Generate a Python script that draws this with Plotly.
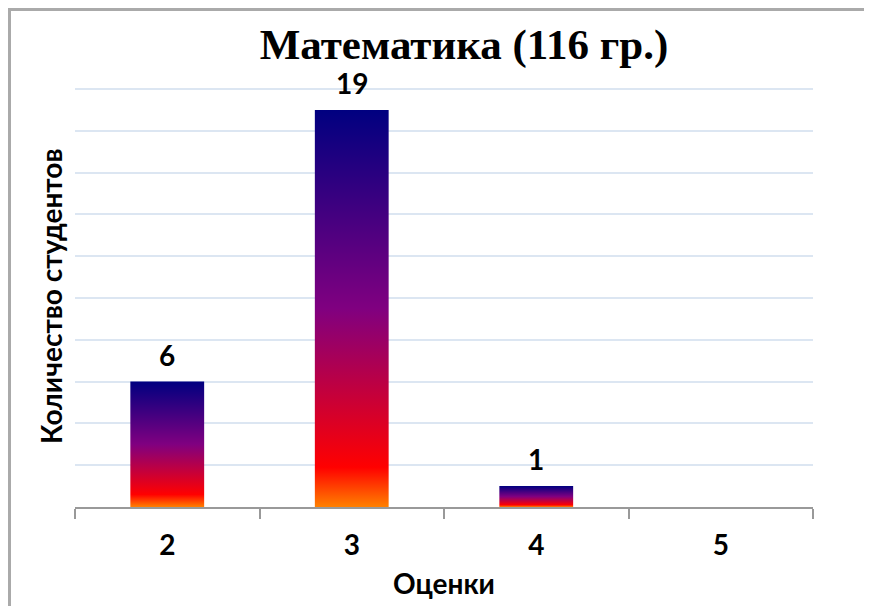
import plotly.graph_objects as go

# ---- data ----
grades = ["2", "3", "4", "5"]
counts = [6, 19, 1, 0]
title_text = "Математика (116 гр.)"
x_title = "Оценки"
y_title = "Количество студентов"

# ---- style ----
gradient = [[0.0, "#FF8000"], [0.1, "#FF0000"], [0.5, "#800080"], [1.0, "#000080"]]
bar_half = 0.2
label_font = dict(family="Lato", size=28, color="black", weight="bold")

OFF = 8  # default page body margin
W, H = 872 - OFF, 606 - OFF
L, R, T, B = 75 - OFF, 59, 88 - OFF, 99
pw, ph = W - L - R, H - T - B


def px_x(x):  # page pixel -> paper x
    return (x - OFF - L) / pw


def px_y(y):  # page pixel -> paper y
    return (H - B - (y - OFF)) / ph


fig = go.Figure()

for i, (g, v) in enumerate(zip(grades, counts)):
    if v <= 0:
        continue
    fig.add_trace(go.Scatter(
        x=[i - bar_half, i + bar_half, i + bar_half, i - bar_half, i - bar_half],
        y=[0, 0, v, v, 0],
        mode="lines",
        line=dict(width=0),
        fill="toself",
        fillgradient=dict(type="vertical", colorscale=gradient),
        hoverinfo="skip",
        showlegend=False,
    ))

for i, v in enumerate(counts):
    if v <= 0:
        continue
    fig.add_annotation(x=i, y=v, text=str(v), showarrow=False,
                       yanchor="bottom", yshift=8, font=label_font)

fig.add_annotation(xref="paper", yref="paper", x=px_x(444), y=px_y(583),
                   text=x_title, showarrow=False, xanchor="center", yanchor="middle",
                   font=label_font)
fig.add_annotation(xref="paper", yref="paper", x=px_x(51), y=px_y(297),
                   text=y_title, showarrow=False, textangle=-90,
                   xanchor="center", yanchor="middle", font=label_font)

# frame (drawn at the figure's own edges)
fig.add_shape(type="line", xref="paper", yref="paper",
              x0=px_x(9.5), x1=px_x(9.5), y0=px_y(9.5), y1=px_y(620),
              line=dict(color="#AAAAAA", width=3))
fig.add_shape(type="line", xref="paper", yref="paper",
              x0=px_x(8), x1=px_x(872), y0=px_y(9.5), y1=px_y(9.5),
              line=dict(color="#AAAAAA", width=3))
fig.add_shape(type="line", xref="paper", yref="paper",
              x0=px_x(870.5), x1=px_x(870.5), y0=px_y(9.5), y1=px_y(620),
              line=dict(color="#D0D0D0", width=2))

fig.update_layout(
    width=W, height=H,
    margin=dict(l=L, r=R, t=T, b=B, pad=0),
    paper_bgcolor="white", plot_bgcolor="white",
    title=dict(text=title_text, x=(464 - OFF) / W, xref="container", xanchor="center",
               y=1 - (44 - OFF) / H, yref="container", yanchor="middle",
               font=dict(family="Liberation Serif", size=43, color="black", weight="bold")),
    xaxis=dict(
        range=[-0.5, len(grades) - 0.5],
        tickmode="array", tickvals=list(range(len(grades))), ticktext=grades,
        ticks="", showgrid=False, zeroline=False,
        showline=True, linecolor="#999999", linewidth=2,
        tickfont=label_font, ticklabelstandoff=12,
        minor=dict(tickmode="array",
                   tickvals=[i - 0.5 for i in range(len(grades) + 1)],
                   ticks="outside", ticklen=10, tickwidth=2, tickcolor="#999999",
                   showgrid=False),
        fixedrange=True,
    ),
    yaxis=dict(
        range=[0, 20.05], tickmode="array", tickvals=list(range(2, 21, 2)),
        showticklabels=False, ticks="",
        showgrid=True, gridcolor="#DCE6F2", gridwidth=1.5,
        zeroline=False, showline=False, fixedrange=True,
    ),
)

fig.write_html("out.html")
